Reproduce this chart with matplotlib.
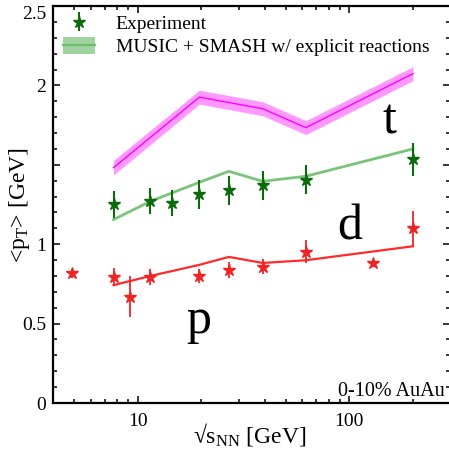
import matplotlib
matplotlib.use("Agg")
import matplotlib.pyplot as plt
from matplotlib.patches import Patch
from matplotlib.lines import Line2D
from matplotlib.ticker import FixedLocator, FixedFormatter, LogLocator, NullFormatter

plt.rcParams['font.family'] = ['Liberation Serif', 'DejaVu Serif']
plt.rcParams['mathtext.fontset'] = 'custom'
plt.rcParams['mathtext.rm'] = 'Liberation Serif'
plt.rcParams['mathtext.it'] = 'Liberation Serif:italic'

# Measured mean transverse momenta (0-10% Au+Au)
p_energy = [4.9, 7.7, 9.2, 11.5, 19.6, 27, 39, 62.4, 130, 200]
p_mean_pt = [0.816, 0.794, 0.669, 0.794, 0.799, 0.836, 0.857, 0.952, 0.879, 1.099]
p_err = [0.03, 0.058, 0.13, 0.05, 0.045, 0.05, 0.047, 0.073, 0.02, 0.108]

d_energy = [7.7, 11.5, 14.5, 19.6, 27, 39, 62.4, 200]
d_mean_pt = [1.252, 1.272, 1.26, 1.314, 1.34, 1.371, 1.407, 1.535]
d_err = [0.086, 0.084, 0.084, 0.09, 0.09, 0.092, 0.094, 0.103]

# MUSIC + SMASH with explicit reactions
model_energy = [7.7, 11.5, 19.6, 27, 39, 62.4, 200]
model_p = [0.742, 0.80, 0.87, 0.92, 0.882, 0.899, 0.987]
model_d = [1.155, 1.27, 1.39, 1.459, 1.396, 1.428, 1.60]

t_energy = [7.7, 19.6, 39, 62.4, 200]
model_t = [1.482, 1.926, 1.853, 1.734, 2.074]
model_t_err = [0.046, 0.044, 0.044, 0.044, 0.044]

y_ticks = [0, 0.5, 1, 1.5, 2, 2.5]
y_tick_labels = ['0', '0.5', '1', '', '2', '']
x_ticks = [10, 100]
x_tick_labels = ['10', '100']

RED = '#f02424'
RED_LINE = '#ff2a2a'
DGREEN = '#0b6b0b'
LGREEN = '#6cbd6c'
MAGENTA = '#ff00ff'
MAGENTA_BAND = '#ff99ff'

W, H = 449, 454
fig = plt.figure(figsize=(W / 100, H / 100), dpi=100)
left_px, right_px, top_px, bottom_px = 53.3, 450.3, 6.0, 403.0
ax = fig.add_axes([left_px / W, 1 - bottom_px / H,
                   (right_px - left_px) / W, (bottom_px - top_px) / H])

# triton band and line
t_lo = [v - e for v, e in zip(model_t, model_t_err)]
t_hi = [v + e for v, e in zip(model_t, model_t_err)]
ax.fill_between(t_energy, t_lo, t_hi, color=MAGENTA_BAND, lw=0, zorder=2)
ax.plot(t_energy, model_t, color=MAGENTA, lw=1.0, zorder=3)

# deuteron model and data
ax.plot(model_energy, model_d, color=LGREEN, lw=2.0, alpha=0.9, zorder=3)
d_cont = ax.errorbar(d_energy, d_mean_pt, yerr=d_err, fmt='*', color=DGREEN,
                     ms=9, elinewidth=1.5, capsize=0, zorder=4)

# proton model and data
ax.plot(model_energy, model_p, color=RED_LINE, lw=1.6, zorder=3)
ax.errorbar(p_energy, p_mean_pt, yerr=p_err, fmt='*', color=RED,
            ms=9, elinewidth=1.3, capsize=0, zorder=4)

ax.set_xscale('log')
ax.set_xlim(4, 300)
ax.set_ylim(0, 2.5)

ax.xaxis.set_major_locator(FixedLocator(x_ticks))
ax.xaxis.set_major_formatter(FixedFormatter(x_tick_labels))
ax.xaxis.set_minor_locator(LogLocator(base=10, subs=[2, 3, 4, 5, 6, 7, 8, 9], numticks=20))
ax.xaxis.set_minor_formatter(NullFormatter())
ax.yaxis.set_major_locator(FixedLocator(y_ticks))
ax.yaxis.set_major_formatter(FixedFormatter(y_tick_labels))
ax.yaxis.set_minor_locator(FixedLocator([i / 10 for i in range(26)]))

ax.tick_params(which='both', direction='in', top=True, right=True, width=1.1,
               labelsize=14, colors='black')
ax.tick_params(which='major', length=5)
ax.tick_params(which='minor', length=3)
ax.tick_params(axis='y', which='major', pad=5)
ax.tick_params(axis='x', which='major', pad=7)
for s in ax.spines.values():
    s.set_linewidth(1.6)

ax.annotate('2.5', xy=(0, 2.5), xycoords=('axes fraction', 'data'),
            xytext=(-5, -6), textcoords='offset points', ha='right', va='center',
            fontsize=14)

ax.set_xlabel('√s$_{\\mathrm{NN}}$ [GeV]', fontsize=17)
ax.xaxis.set_label_coords((250 - left_px) / (right_px - left_px),
                          -(434 - bottom_px) / (bottom_px - top_px))
ax.xaxis.label.set_va('center')
ax.set_ylabel('<p$_{\\mathrm{T}}$> [GeV]', fontsize=17)
ax.yaxis.set_label_coords((20 - left_px) / (right_px - left_px),
                          (bottom_px - 205) / (bottom_px - top_px))
ax.yaxis.label.set_va('center')

ax.text(155, 1.698, 't', fontsize=36, ha='center', va='baseline')
ax.text(100.7, 1.03, 'd', fontsize=36, ha='center', va='baseline')
ax.text(19.4, 0.44, 'p', fontsize=36, ha='center', va='baseline')
ax.text(0.985, 0.018, '0-10% AuAu', transform=ax.transAxes, fontsize=14.5,
        ha='right', va='baseline')

model_handle = (Patch(facecolor='#a0d3a0', edgecolor='none'),
                Line2D([], [], color=LGREEN, lw=1.6))
ax.legend([d_cont, model_handle],
          ['Experiment', 'MUSIC + SMASH w/ explicit reactions'],
          loc='upper left', bbox_to_anchor=(63 / W, 1 - 14 / H),
          bbox_transform=fig.transFigure, frameon=False, fontsize=14,
          borderpad=0, borderaxespad=0, handlelength=1.65, handleheight=0.95,
          handletextpad=1.05, labelspacing=0.22)

fig.savefig('out.png', dpi=100)
